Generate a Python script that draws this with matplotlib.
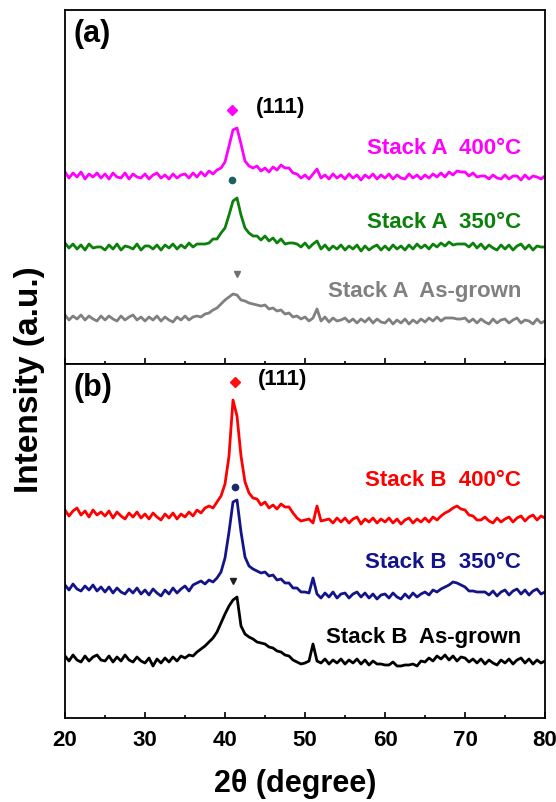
import numpy as np
import matplotlib.pyplot as plt

plt.rcParams['font.family'] = ['Liberation Sans', 'DejaVu Sans']
plt.rcParams['font.weight'] = 'bold'

# 2-theta sampling (degree), 0.5 deg steps from 20 to 80
two_theta = np.arange(20, 80.01, 0.5)

# intensities (a.u., already stacked)
stack_a_400 = [
    194, 188, 193, 189, 194, 187, 192, 189, 193, 188,
    192, 187, 193, 189, 188, 193, 187, 192, 189, 188,
    192, 187, 191, 193, 188, 191, 187, 192, 188, 191,
    192, 188, 193, 189, 194, 190, 195, 192, 196, 198,
    204, 220, 236, 238, 222, 205, 200, 198, 200, 195,
    198, 194, 199, 196, 201, 198, 198, 193, 192, 188,
    191, 187, 192, 197, 188, 191, 187, 192, 188, 191,
    187, 192, 188, 191, 186, 191, 188, 192, 187, 191,
    188, 192, 187, 191, 188, 187, 192, 188, 191, 187,
    191, 188, 192, 189, 193, 189, 194, 191, 195, 194,
    194, 190, 193, 189, 190, 190, 187, 191, 188, 187,
    191, 187, 190, 190, 186, 191, 187, 190, 189, 187,
    190]
stack_a_350 = [
    123, 118, 122, 117, 121, 116, 122, 118, 119, 119,
    116, 121, 117, 122, 116, 120, 119, 117, 122, 116,
    120, 120, 117, 121, 116, 121, 118, 122, 117, 121,
    118, 123, 119, 122, 122, 122, 123, 127, 127, 133,
    138, 151, 165, 168, 151, 138, 133, 130, 130, 126,
    130, 125, 128, 123, 127, 122, 123, 123, 122, 119,
    123, 118, 122, 125, 117, 121, 116, 120, 117, 121,
    116, 120, 117, 121, 115, 120, 116, 119, 121, 116,
    120, 116, 121, 117, 120, 116, 121, 117, 122, 118,
    121, 117, 122, 119, 123, 120, 124, 121, 122, 122,
    122, 119, 123, 118, 122, 117, 121, 118, 116, 121,
    117, 121, 116, 120, 122, 117, 121, 116, 120, 119,
    119]
stack_a_grown = [
    51, 46, 50, 47, 51, 46, 50, 47, 45, 50,
    46, 50, 47, 45, 50, 46, 49, 51, 46, 49,
    45, 49, 46, 50, 45, 49, 46, 44, 49, 46,
    50, 46, 49, 50, 49, 52, 53, 56, 58, 62,
    66, 69, 72, 71, 66, 65, 63, 62, 61, 60,
    61, 57, 58, 55, 56, 52, 53, 49, 50, 47,
    49, 45, 48, 57, 45, 49, 44, 48, 45, 46,
    48, 44, 47, 43, 47, 44, 48, 43, 47, 44,
    43, 47, 42, 46, 43, 47, 42, 46, 43, 47,
    44, 48, 45, 49, 45, 48, 48, 48, 47, 47,
    48, 44, 47, 43, 47, 44, 42, 47, 43, 46,
    47, 43, 46, 48, 43, 46, 45, 42, 47, 43,
    45]
stack_b_400 = [
    208, 202, 207, 210, 203, 207, 201, 208, 203, 206,
    202, 207, 200, 206, 202, 199, 205, 201, 206, 200,
    204, 199, 205, 201, 198, 204, 200, 205, 199, 204,
    201, 206, 202, 208, 205, 210, 212, 210, 216, 222,
    234, 262, 318, 302, 262, 236, 225, 220, 219, 213,
    216, 210, 213, 209, 214, 211, 211, 205, 200, 197,
    198, 199, 195, 212, 197, 198, 199, 195, 200, 196,
    200, 195, 199, 201, 194, 199, 196, 200, 195, 199,
    196, 200, 195, 199, 194, 198, 200, 195, 199, 196,
    200, 196, 201, 198, 202, 205, 207, 210, 212, 209,
    208, 203, 202, 198, 198, 201, 197, 195, 200, 196,
    199, 201, 196, 200, 202, 197, 201, 203, 198, 202,
    200]
stack_b_350 = [
    133, 128, 134, 129, 127, 132, 128, 133, 127, 131,
    126, 131, 125, 130, 126, 124, 129, 125, 130, 124,
    128, 123, 129, 125, 122, 128, 124, 130, 125, 129,
    132, 127, 133, 135, 137, 134, 138, 136, 140, 146,
    160, 186, 216, 218, 186, 161, 152, 149, 147, 145,
    146, 142, 143, 138, 139, 135, 135, 130, 130, 126,
    126, 125, 140, 124, 120, 125, 121, 126, 120, 124,
    125, 120, 124, 126, 121, 125, 120, 124, 119, 123,
    124, 120, 125, 121, 119, 124, 120, 125, 121, 124,
    126, 123, 128, 126, 129, 131, 133, 136, 135, 133,
    131, 127, 127, 126, 126, 126, 123, 127, 122, 126,
    128, 123, 127, 129, 124, 128, 123, 127, 129, 124,
    126]
stack_b_grown = [
    62, 57, 63, 58, 56, 62, 57, 61, 63, 58,
    57, 62, 56, 61, 57, 63, 58, 56, 61, 57,
    55, 60, 52, 59, 55, 60, 56, 61, 57, 62,
    60, 63, 62, 66, 69, 72, 76, 80, 86, 95,
    104, 112, 118, 121, 92, 84, 81, 79, 76, 75,
    74, 71, 70, 67, 66, 63, 62, 58, 56, 54,
    55, 57, 74, 57, 55, 59, 54, 58, 55, 59,
    54, 58, 55, 59, 54, 58, 53, 57, 54, 54,
    53, 53, 56, 52, 52, 53, 53, 54, 52, 57,
    56, 60, 57, 62, 59, 63, 58, 62, 57, 61,
    60, 56, 59, 55, 59, 54, 58, 55, 53, 58,
    55, 59, 54, 58, 60, 55, 59, 54, 58, 55,
    57]

labels_a = ['Stack A  400\u00b0C', 'Stack A  350\u00b0C', 'Stack A  As-grown']
labels_b = ['Stack B  400\u00b0C', 'Stack B  350\u00b0C', 'Stack B  As-grown']
colors_a = ['#ff00ff', '#0b800b', '#808080']
colors_b = ['#ff0000', '#14148a', '#000000']
label_y_a = [219, 145, 75]
label_y_b = [239, 157, 82]

# (111) peak markers: position and height
peak_x_a = [40.9, 40.9, 41.5]
peak_y_a = [256, 186, 92]
peak_x_b = [41.2, 41.2, 41.0]
peak_y_b = [336, 231, 137]
peak_marks = ['D', 'o', 'v']
mark_colors_a = ['#ff00ff', '#1f5f5f', '#707070']
mark_colors_b = ['#ff1010', '#1a2a6a', '#202020']

fig = plt.figure(figsize=(5.56, 8.03), dpi=100)
ax_a = fig.add_axes([65 / 556, 1 - 365 / 803, 480 / 556, 354 / 803])
ax_b = fig.add_axes([65 / 556, 1 - 719 / 803, 480 / 556, 354 / 803])

panels = [
    (ax_a, [stack_a_400, stack_a_350, stack_a_grown], labels_a, colors_a, label_y_a,
     peak_x_a, peak_y_a, mark_colors_a, '(a)', (2, 356)),
    (ax_b, [stack_b_400, stack_b_350, stack_b_grown], labels_b, colors_b, label_y_b,
     peak_x_b, peak_y_b, mark_colors_b, '(b)', (0, 354)),
]

for ax, curves, labels, colors, ly, px, py, mcols, tag, ylim in panels:
    for y, lab, c, yy in zip(curves, labels, colors, ly):
        ax.plot(two_theta, y, color=c, lw=2.0)
        ax.text(77, yy, lab, color=c, fontsize=16, fontweight='bold', ha='right', va='center')
    for x0, y0, m, mc in zip(px, py, peak_marks, mcols):
        ax.plot(x0, y0, marker=m, color=mc, ms=4.5 if m == 'o' else 5, mec=mc)
    ax.text(px[0] + 2.9, py[0] + 4, '(111)', fontsize=16, fontweight='bold', ha='left', va='center')
    ax.text(0.018, 0.935, tag, transform=ax.transAxes, fontsize=22, fontweight='bold',
            ha='left', va='center')
    ax.set_xlim(20, 80)
    ax.set_ylim(*ylim)
    ax.set_yticks([])
    ax.set_xticks(np.arange(20, 81, 10))
    ax.set_xticks(np.arange(25, 80, 10), minor=True)
    ax.tick_params(axis='x', which='major', direction='in', length=4, width=1.2, pad=8)
    ax.tick_params(axis='x', which='minor', direction='in', length=2, width=1.2)
    for s in ax.spines.values():
        s.set_linewidth(1.3)

ax_a.tick_params(axis='x', which='both', labelbottom=False)
for lab in ax_b.get_xticklabels():
    lab.set_fontweight('bold')
    lab.set_fontsize(16)

fig.text(295 / 556, 1 - 784 / 803, '2\u03b8 (degree)', fontsize=22, fontweight='bold',
         ha='center', va='center')
fig.text(30 / 556, 1 - 380 / 803, 'Intensity (a.u.)', fontsize=24, fontweight='bold',
         rotation=90, ha='center', va='center')

fig.savefig('out.png', dpi=100)
